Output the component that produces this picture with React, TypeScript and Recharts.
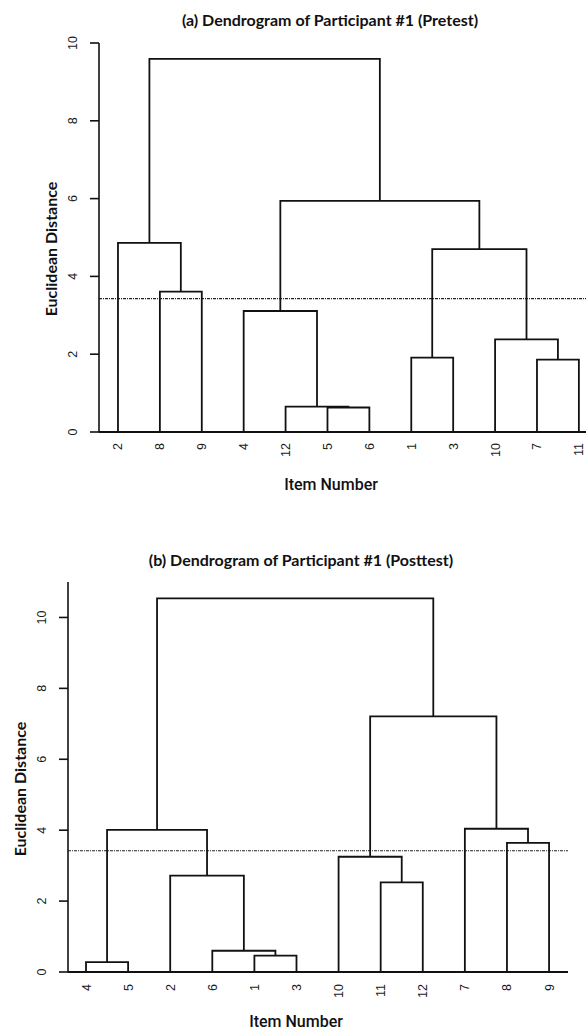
import { ComposedChart, Line, XAxis, YAxis, ReferenceLine } from 'recharts'

// leaf order along the x axis, merges bottom-up ("m3" = result of merge #3), merge heights
const leavesA = ['2', '8', '9', '4', '12', '5', '6', '1', '3', '10', '7', '11']
const pairsA = [
  ['5', '6'], ['12', 'm0'], ['7', '11'], ['1', '3'], ['10', 'm2'], ['4', 'm1'],
  ['8', '9'], ['m3', 'm4'], ['2', 'm6'], ['m5', 'm7'], ['m8', 'm9'],
]
const heightsA = [0.63, 0.65, 1.86, 1.91, 2.38, 3.11, 3.61, 4.7, 4.86, 5.94, 9.59]

const leavesB = ['4', '5', '2', '6', '1', '3', '10', '11', '12', '7', '8', '9']
const pairsB = [
  ['4', '5'], ['1', '3'], ['6', 'm1'], ['11', '12'], ['2', 'm2'], ['10', 'm3'],
  ['8', '9'], ['m0', 'm4'], ['7', 'm6'], ['m5', 'm8'], ['m7', 'm9'],
]
const heightsB = [0.28, 0.46, 0.6, 2.53, 2.72, 3.25, 3.64, 4.01, 4.04, 7.21, 10.54]

const yTicks = [0, 2, 4, 6, 8, 10]
const leafTicks = [0, 1, 2, 3, 4, 5, 6, 7, 8, 9, 10, 11]
const cutA = 3.43
const cutB = 3.42

type Pt = { x: number; y: number }

function buildSegments(leaves: string[], pairs: string[][], heights: number[]): Pt[][] {
  const pos: Record<string, Pt> = {}
  leaves.forEach((l, i) => (pos[l] = { x: i, y: 0 }))
  return pairs.map(([a, b], i) => {
    const l = pos[a]
    const r = pos[b]
    const h = heights[i]
    pos['m' + i] = { x: (l.x + r.x) / 2, y: h }
    return [
      { x: l.x, y: l.y },
      { x: l.x, y: h },
      { x: r.x, y: h },
      { x: r.x, y: r.y },
    ]
  })
}

const tickFont = { fontFamily: 'Liberation Sans, Arial, sans-serif', fontSize: 12.5, fill: '#1a1a1a' }

function YTick(props: any) {
  const { x, y, payload } = props
  return (
    <text transform={`translate(${x - 11},${y}) rotate(-90)`} textAnchor="middle" {...tickFont}>
      {payload.value}
    </text>
  )
}

function makeXTick(leaves: string[]) {
  return function XTick(props: any) {
    const { x, y, payload } = props
    return (
      <text transform={`translate(${x + 4.5},${y}) rotate(-90)`} textAnchor="end" {...tickFont}>
        {leaves[payload.value]}
      </text>
    )
  }
}

interface DendroProps {
  leaves: string[]
  pairs: string[][]
  heights: number[]
  cut: number
  height: number
  margin: { top: number; right: number; bottom: number; left: number }
  xDomain: [number, number]
  yDomain: [number, number]
  labelGap: number
}

function Dendrogram({ leaves, pairs, heights, cut, height, margin, xDomain, yDomain, labelGap }: DendroProps) {
  const segs = buildSegments(leaves, pairs, heights)
  return (
    <ComposedChart width={586} height={height} margin={margin}>
      <XAxis
        type="number"
        dataKey="x"
        domain={xDomain}
        ticks={leafTicks}
        interval={0}
        tickLine={false}
        tickSize={0}
        tickMargin={labelGap}
        height={30}
        axisLine={{ stroke: '#111', strokeWidth: 1.8 }}
        tick={makeXTick(leaves)}
      />
      <YAxis
        type="number"
        domain={yDomain}
        ticks={yTicks}
        interval={0}
        width={60}
        tickSize={9}
        axisLine={{ stroke: '#111', strokeWidth: 1.6 }}
        tickLine={{ stroke: '#111', strokeWidth: 1.6 }}
        tick={<YTick />}
      />
      <ReferenceLine y={cut} stroke="#222" strokeWidth={1.2} strokeDasharray="3 1 1 1" ifOverflow="visible" />
      {segs.map((s, i) => (
        <Line
          key={i}
          data={s}
          dataKey="y"
          type="linear"
          stroke="#111"
          strokeWidth={1.8}
          dot={false}
          activeDot={false}
          isAnimationActive={false}
        />
      ))}
    </ComposedChart>
  )
}

const titleStyle: React.CSSProperties = {
  position: 'absolute',
  transform: 'translate(-50%, -50%)',
  fontFamily: 'Lato, sans-serif',
  fontWeight: 700,
  fontSize: 16,
  whiteSpace: 'nowrap',
  lineHeight: 1,
  color: '#111',
}
const yLabelStyle: React.CSSProperties = {
  ...titleStyle,
  transform: 'translate(-50%, -50%) rotate(-90deg)',
  fontSize: 16,
}
const xLabelStyle: React.CSSProperties = {
  ...titleStyle,
  fontFamily: 'Roboto, sans-serif',
  fontWeight: 500,
  fontSize: 16,
}

export default function App() {
  return (
    <div style={{ position: 'absolute', left: 0, top: 0, width: 586, height: 1030, background: '#fff', overflow: 'hidden' }}>
      <div style={{ position: 'absolute', left: 0, top: 0 }}>
        <Dendrogram
          leaves={leavesA}
          pairs={pairsA}
          heights={heightsA}
          cut={cutA}
          height={500}
          margin={{ top: 43, right: 0, bottom: 38, left: 39 }}
          xDomain={[-0.453, 11.17]}
          yDomain={[0, 10]}
          labelGap={11}
        />
      </div>
      <div style={{ position: 'absolute', left: 0, top: 500 }}>
        <Dendrogram
          leaves={leavesB}
          pairs={pairsB}
          heights={heightsB}
          cut={cutB}
          height={530}
          margin={{ top: 82, right: 18, bottom: 28, left: 8 }}
          xDomain={[-0.428, 11.45]}
          yDomain={[0, 11]}
          labelGap={12}
        />
      </div>
      <div style={{ ...titleStyle, left: 330, top: 20 }}>(a) Dendrogram of Participant #1 (Pretest)</div>
      <div style={{ ...yLabelStyle, left: 51, top: 249 }}>Euclidean Distance</div>
      <div style={{ ...xLabelStyle, left: 331, top: 485 }}>Item Number</div>
      <div style={{ ...titleStyle, left: 301, top: 560 }}>(b) Dendrogram of Participant #1 (Posttest)</div>
      <div style={{ ...yLabelStyle, left: 20, top: 789 }}>Euclidean Distance</div>
      <div style={{ ...xLabelStyle, left: 296, top: 1022 }}>Item Number</div>
    </div>
  )
}
